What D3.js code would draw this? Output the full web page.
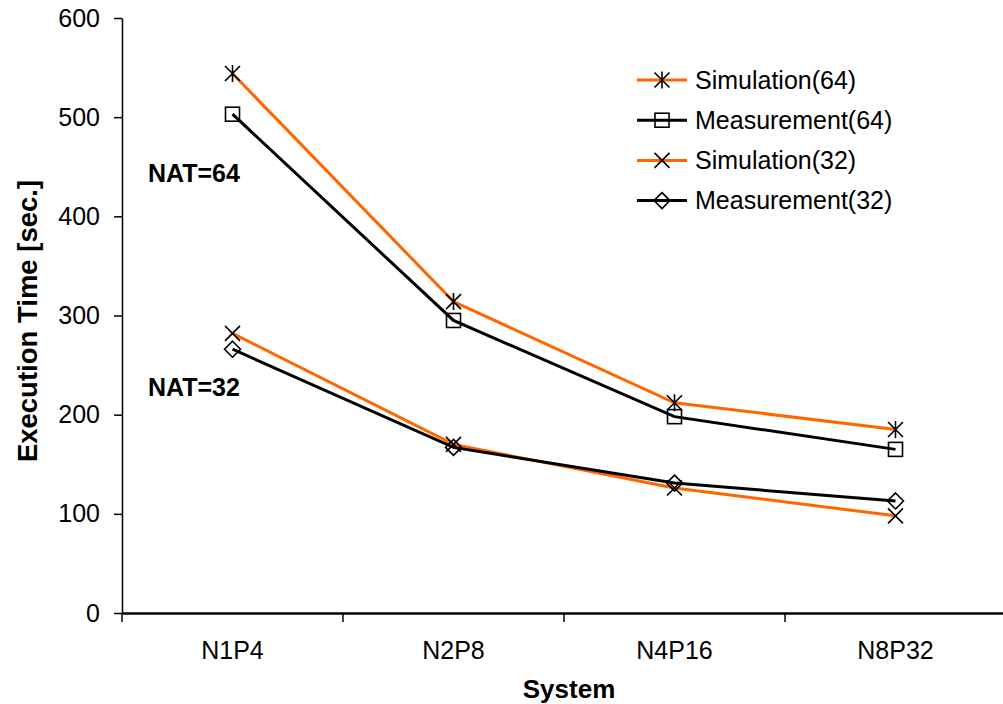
<!DOCTYPE html>
<html>
<head>
<meta charset="utf-8">
<script src="https://cdn.jsdelivr.net/npm/d3@7"></script>
<style>
  body { margin: 0; background: #fff; }
  svg { font-family: "Liberation Sans", Arial, sans-serif; }
</style>
</head>
<body>
<svg id="chart" width="1003" height="704"></svg>
<script>
// values
const systems = ["N1P4", "N2P8", "N4P16", "N8P32"];
const sim64 = [544, 314, 212, 185];
const meas64 = [503, 295, 198, 165];
const sim32 = [282, 170, 126, 98];
const meas32 = [266, 167, 131, 113];
const yTicks = [0, 100, 200, 300, 400, 500, 600];

const series = [
  { name: "Simulation(64)", values: sim64, color: "#ff6600", marker: "star" },
  { name: "Measurement(64)", values: meas64, color: "#000000", marker: "square" },
  { name: "Simulation(32)", values: sim32, color: "#ff6600", marker: "cross" },
  { name: "Measurement(32)", values: meas32, color: "#000000", marker: "diamond" }
];

const svg = d3.select("#chart");
const margin = { top: 18, left: 122, bottom: 91 };
const height = 704;
const font = "Liberation Sans, Arial, sans-serif";

const x = d3.scaleBand()
    .domain(systems)
    .range([margin.left, margin.left + 4 * 221]);

const y = d3.scaleLinear()
    .domain([0, 600])
    .range([height - margin.bottom, margin.top]);

// axes
const yAxis = svg.append("g")
    .attr("transform", `translate(${margin.left},0)`)
    .call(d3.axisLeft(y).tickValues(yTicks).tickSize(8).tickPadding(14).tickSizeOuter(0));
yAxis.select(".domain").attr("stroke-width", 1.5);
yAxis.selectAll(".tick line").attr("stroke-width", 1.5);
yAxis.selectAll(".tick text").attr("font-size", 25).attr("fill", "#000").attr("font-family", font);

const xAxis = svg.append("g")
    .attr("transform", `translate(0,${y(0)})`)
    .call(d3.axisBottom(x).tickSize(0).tickPadding(28.5).tickSizeOuter(0));
xAxis.select(".domain").attr("stroke-width", 2.5);
xAxis.selectAll(".tick text").attr("font-size", 25).attr("fill", "#000").attr("font-family", font);

// category separator ticks
svg.append("g").selectAll("line")
    .data(systems)
    .join("line")
    .attr("x1", d => x(d)).attr("x2", d => x(d))
    .attr("y1", y(0)).attr("y2", y(0) + 9)
    .attr("stroke", "#000").attr("stroke-width", 1.5);

// titles
svg.append("text")
    .attr("x", 569)
    .attr("y", 698)
    .attr("text-anchor", "middle")
    .attr("font-size", 26).attr("font-weight", "bold")
    .text("System");

svg.append("text")
    .attr("transform", `translate(37,321) rotate(-90)`)
    .attr("text-anchor", "middle")
    .attr("font-size", 27.5).attr("font-weight", "bold")
    .text("Execution Time [sec.]");

svg.append("text").attr("x", 148).attr("y", 182)
    .attr("font-size", 25).attr("font-weight", "bold").text("NAT=64");
svg.append("text").attr("x", 148).attr("y", 396)
    .attr("font-size", 25).attr("font-weight", "bold").text("NAT=32");

// markers
function drawMarker(g, type, cx, cy) {
  const r = 7.5;
  const p = d3.path();
  if (type === "star") {
    p.moveTo(cx - r, cy - r); p.lineTo(cx + r, cy + r);
    p.moveTo(cx - r, cy + r); p.lineTo(cx + r, cy - r);
    p.moveTo(cx, cy - r - 1); p.lineTo(cx, cy + r + 1);
    g.append("path").attr("d", p.toString()).attr("stroke", "#000").attr("stroke-width", 1.6).attr("fill", "none");
  } else if (type === "cross") {
    p.moveTo(cx - r, cy - r); p.lineTo(cx + r, cy + r);
    p.moveTo(cx - r, cy + r); p.lineTo(cx + r, cy - r);
    g.append("path").attr("d", p.toString()).attr("stroke", "#000").attr("stroke-width", 1.6).attr("fill", "none");
  } else if (type === "square") {
    g.append("rect").attr("x", cx - 7).attr("y", cy - 7).attr("width", 14).attr("height", 14)
        .attr("stroke", "#000").attr("stroke-width", 1.6).attr("fill", "none");
  } else if (type === "diamond") {
    p.moveTo(cx, cy - 8); p.lineTo(cx + 8, cy); p.lineTo(cx, cy + 8); p.lineTo(cx - 8, cy); p.closePath();
    g.append("path").attr("d", p.toString()).attr("stroke", "#000").attr("stroke-width", 1.6).attr("fill", "none");
  }
}

const line = d3.line()
    .x((d, i) => x(systems[i]) + x.bandwidth() / 2)
    .y(d => y(d));

series.forEach(s => {
  svg.append("path")
      .datum(s.values)
      .attr("d", line)
      .attr("fill", "none")
      .attr("stroke", s.color)
      .attr("stroke-width", 3);
});

series.forEach(s => {
  const g = svg.append("g");
  s.values.forEach((v, i) => drawMarker(g, s.marker, x(systems[i]) + x.bandwidth() / 2, y(v)));
});

// legend
const legend = svg.append("g").attr("transform", "translate(637,80)");
series.forEach((s, i) => {
  const row = legend.append("g").attr("transform", `translate(0,${i * 40.2})`);
  row.append("line").attr("x1", 0).attr("x2", 50).attr("y1", 0).attr("y2", 0)
      .attr("stroke", s.color).attr("stroke-width", 3);
  drawMarker(row, s.marker, 25, 0);
  row.append("text").attr("x", 58).attr("y", 8.5)
      .attr("font-size", 25).text(s.name);
});
</script>
</body>
</html>
